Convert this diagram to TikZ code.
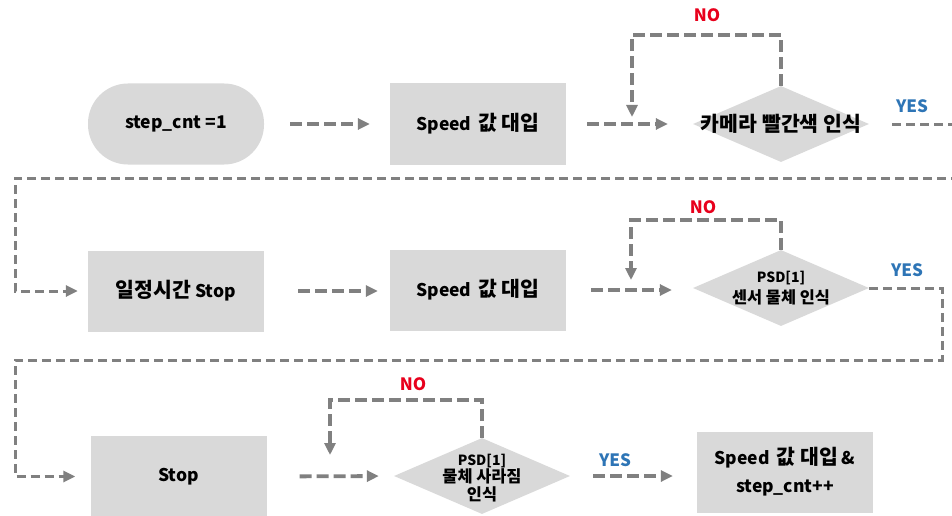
\documentclass[tikz,border=0pt]{standalone}
\usepackage{fontspec}
\setmainfont{Noto Sans CJK KR}
\newfontfamily\ko{Noto Sans CJK KR}[Scale=1.17]
\usetikzlibrary{shapes.geometric,arrows.meta}
\definecolor{linegray}{HTML}{808080}
\definecolor{boxgray}{HTML}{D9D9D9}
\definecolor{noRed}{HTML}{E8001C}
\definecolor{yesBlue}{HTML}{2E75B6}
\begin{document}
\begin{tikzpicture}[x=1pt,y=-1pt,
  font=\bfseries\fontsize{17.5}{20}\selectfont,
  proc/.style={fill=boxgray, minimum width=176pt, minimum height=81pt, inner sep=0pt, align=center},
  term/.style={proc, rounded corners=40pt},
  decision/.style={diamond, fill=boxgray, minimum width=176pt, minimum height=76pt, inner sep=0pt},
  dtext/.style={align=center, inner sep=0pt},
  small/.style={font=\bfseries\fontsize{14}{21}\selectfont},
  flow/.style={draw=linegray, line width=3.8pt, dash pattern=on 12pt off 5pt,
    -{Triangle[length=12pt,width=11pt]}},
  link/.style={draw=linegray, line width=3pt, dash pattern=on 9pt off 5pt},
  linkarrow/.style={link, -{Triangle[length=12pt,width=11pt]}},
  nolbl/.style={text=noRed, font=\bfseries\fontsize{17}{20}\selectfont},
  yeslbl/.style={text=yesBlue, font=\bfseries\fontsize{17}{20}\selectfont},
]
\useasboundingbox (0,0) rectangle (952,516);
\fill[white] (0,0) rectangle (952,516);
\clip (0,0) rectangle (952,516);

% ---- row 1 ----
\node[term] (start) at (176,124) {step\_cnt =1};
\node[proc] (sv1) at (478,124) {Speed\, {\ko 값 대입}};
\node[decision, label={[dtext]center:{\ko 카메라 빨간색 인식}}] (d1) at (781,124) {};

\draw[flow, shorten <=26pt, shorten >=20pt] (start.east) -- (sv1.west);
\draw[flow, shorten <=21pt, shorten >=25pt] (sv1.east) -- (d1.west);
\coordinate (no1) at (632,35);
\coordinate (in1) at (632,117);
\draw[flow] (d1.north) |- (no1) -- (in1);
\node[nolbl] (no1lbl) at (707,15) {NO};
\node[yeslbl] (yes1lbl) at (912,106) {YES};

% ---- row 2 ----
\node[proc] (wait) at (176,291) {{\ko 일정시간} Stop};
\node[proc] (sv2) at (478,290) {Speed\, {\ko 값 대입}};
\node[decision, label={[dtext, small]center:PSD[1]\\{\ko 센서 물체 인식}}] (d2) at (781,288) {};

\coordinate (r1) at (962,124);
\coordinate (r1b) at (962,178);
\coordinate (l1) at (15,178);
\draw[linkarrow, shorten <=23pt, shorten >=10pt] (d1.east) -- (r1) -- (r1b) -- (l1) |- (wait.west);

\draw[flow, shorten <=34pt, shorten >=12pt] (wait.east) -- (wait.east -| sv2.west);
\draw[flow, shorten <=25pt, shorten >=21pt] (sv2.east) -- (sv2.east -| d2.west);
\coordinate (no2) at (631,220);
\coordinate (in2) at (631,280);
\draw[flow] (d2.north) |- (no2) -- (in2);
\node[nolbl] (no2lbl) at (703,207) {NO};
\node[yeslbl] (yes2lbl) at (907,270) {YES};

% ---- row 3 ----
\node[proc] (stop) at (178.5,476.5) {Stop};
\node[decision, label={[dtext, yshift=-2pt, font=\bfseries\fontsize{14}{17.5}\selectfont]center:PSD[1]\\{\ko 물체 사라짐}\\{\ko 인식}}] (d3) at (482,476) {};
\node[proc, font=\bfseries\fontsize{17.5}{28}\selectfont] (fin) at (785,472) {Speed\, {\ko 값 대입} \&\\step\_cnt++};

\coordinate (r2) at (942,288);
\coordinate (r2b) at (942,360);
\coordinate (l2) at (15,360);
\draw[linkarrow, shorten >=15pt] (d2.east) -- (r2) -- (r2b) -- (l2) |- (stop.west);

\draw[flow, shorten <=33pt, shorten >=15pt] (stop.east) -- (d3.west);
\coordinate (no3) at (330,400);
\coordinate (in3) at (330,455);
\draw[flow] (d3.north) |- (no3) -- (in3);
\node[nolbl] (no3lbl) at (413,384) {NO};

\draw[flow, shorten <=23pt, shorten >=24pt] (d3.east) -- (d3.east -| fin.west);
\node[yeslbl] (yes3lbl) at (615,460) {YES};
\end{tikzpicture}
\end{document}
